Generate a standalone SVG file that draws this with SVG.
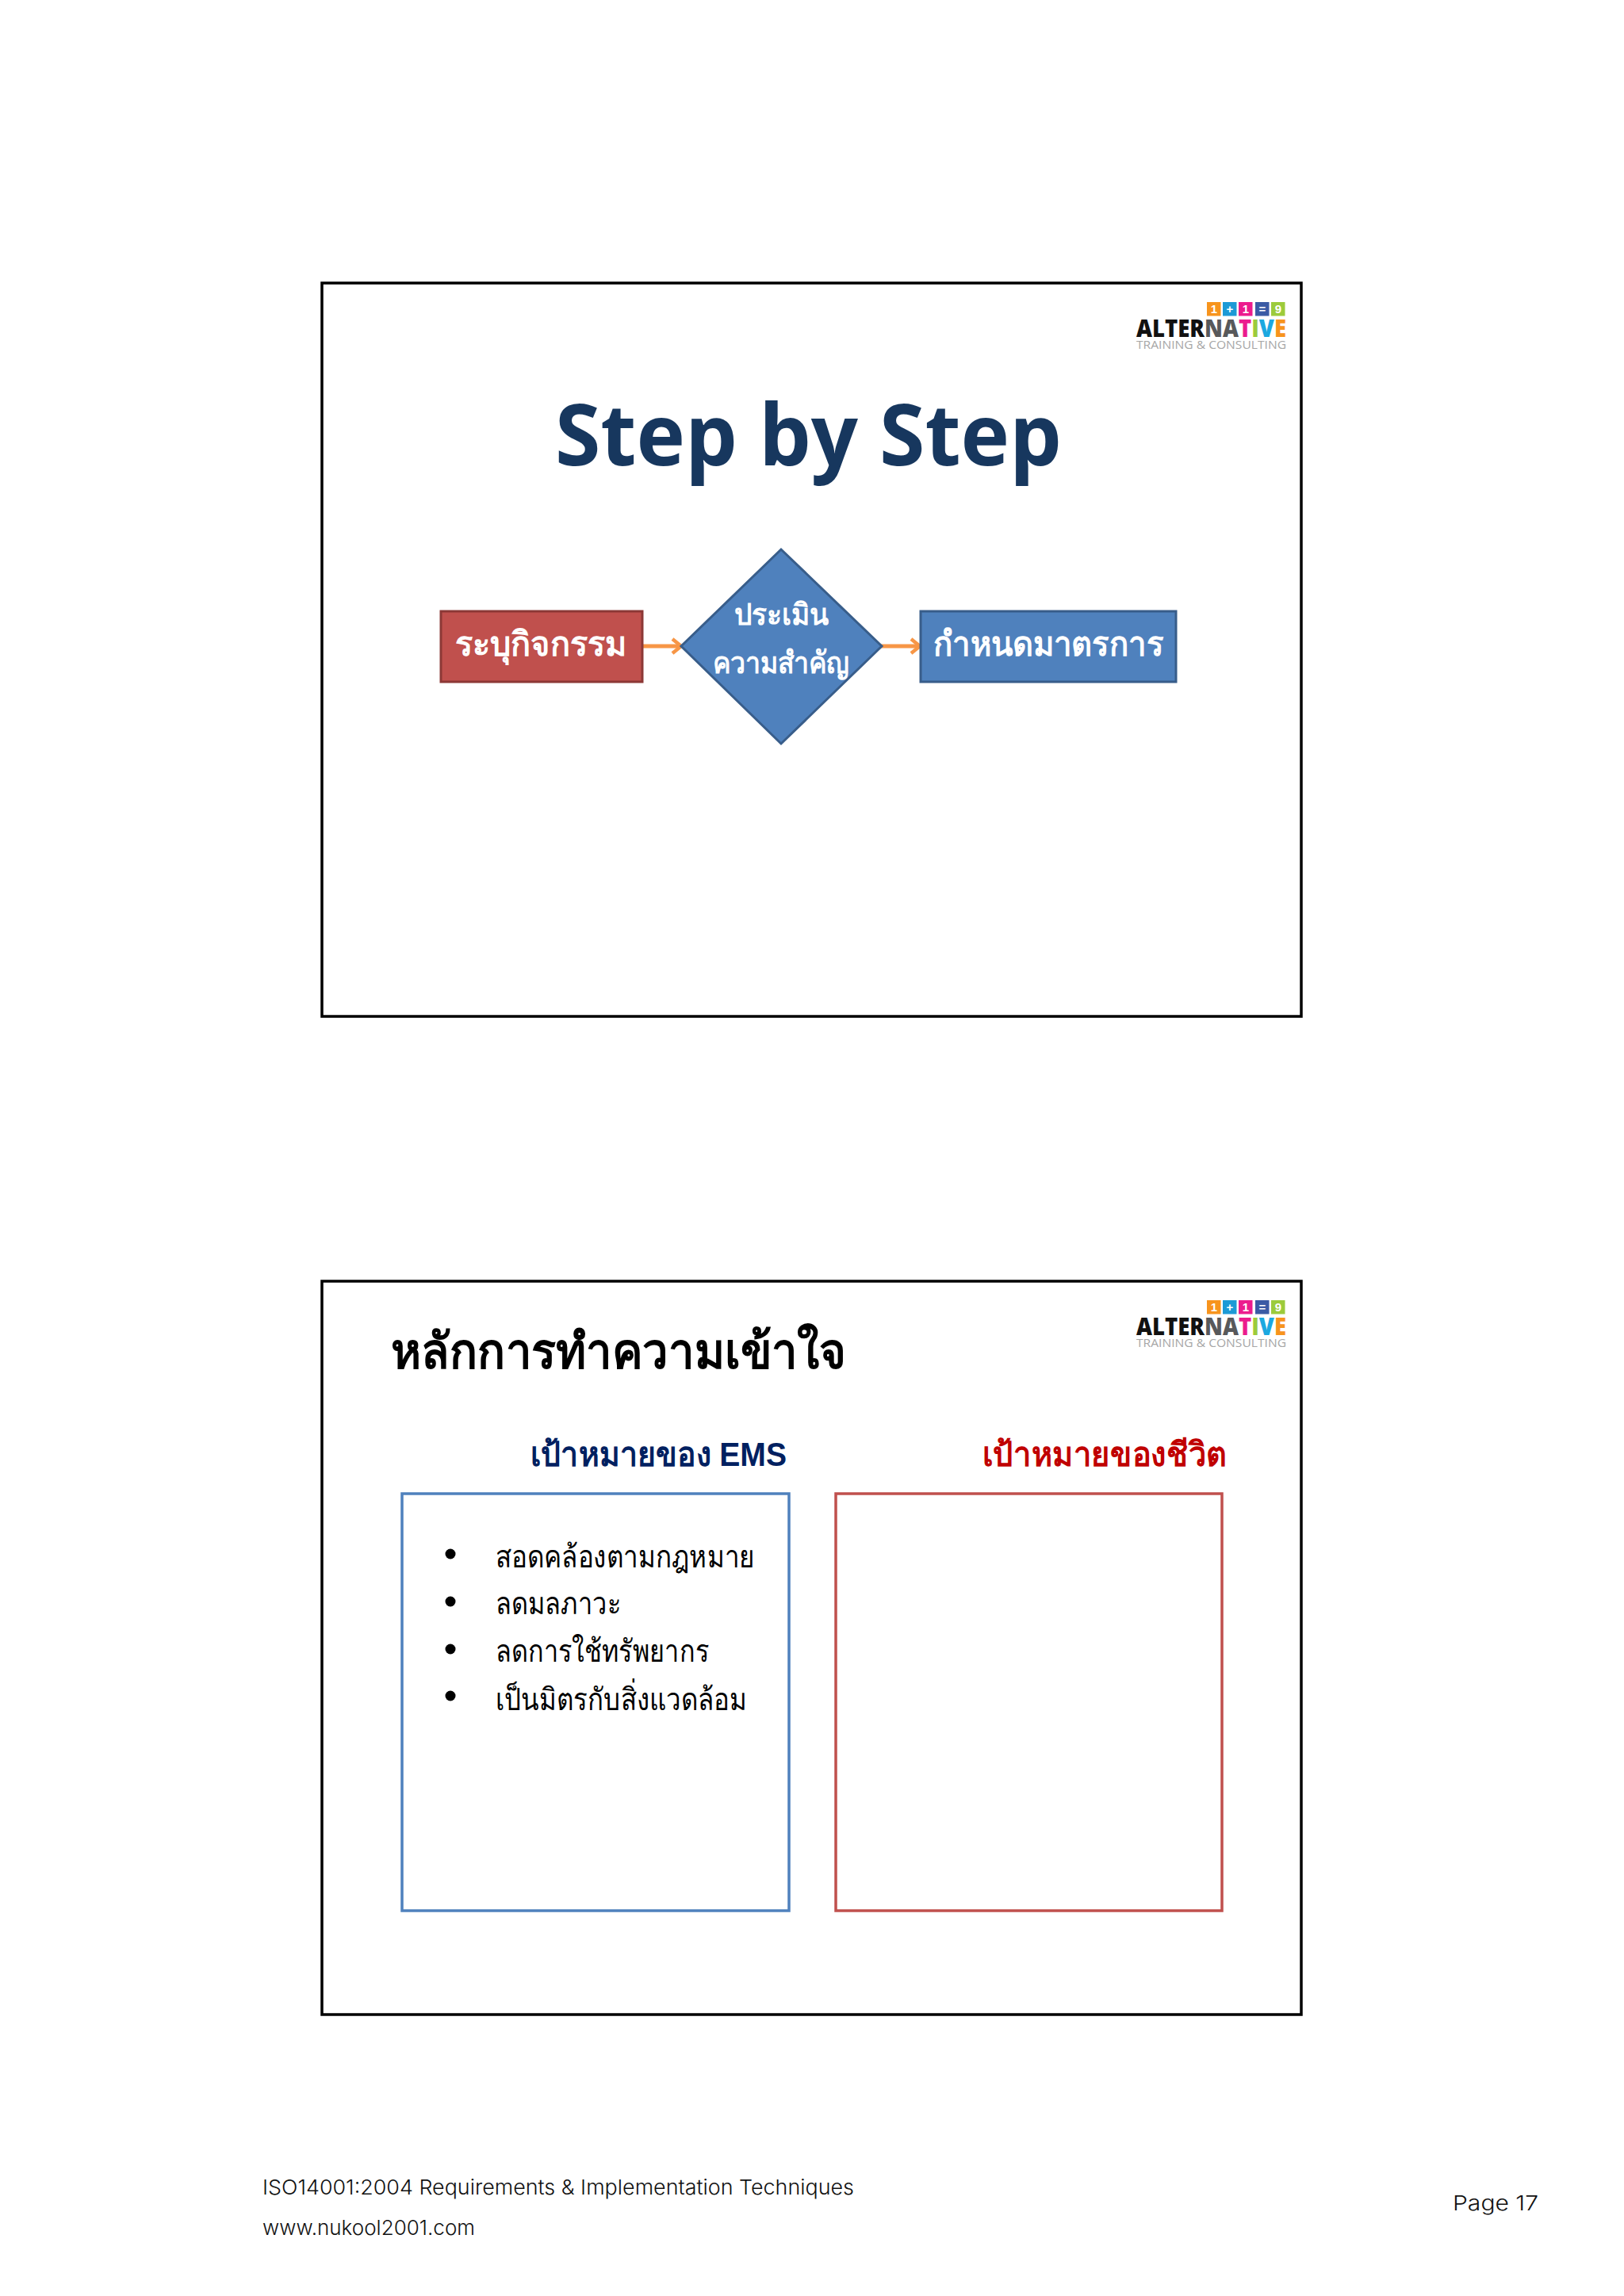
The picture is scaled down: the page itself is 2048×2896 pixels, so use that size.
<svg xmlns="http://www.w3.org/2000/svg" width="2048" height="2896" viewBox="0 0 2048 2896">
<defs>
<marker id="arr" markerUnits="userSpaceOnUse" markerWidth="18" markerHeight="24" refX="15" refY="12" orient="auto"><path d="M4 3 L15 12 L4 21" fill="none" stroke="#f79646" stroke-width="4.500"/></marker>
</defs>
<style>
text{font-family:"Noto Sans","Liberation Sans","DejaVu Sans",sans-serif}
.slide{fill:#fff;stroke:#000;stroke-width:3.500}
.conn{stroke:#f79646;stroke-width:5;fill:none;marker-end:url(#arr)}
.nl{fill:#fff;font-weight:700;font-size:43px}
.sq{font-size:15px;font-weight:700;fill:#fff;text-anchor:middle;font-family:"Liberation Sans",sans-serif}
.lg{font-size:30px;font-weight:800;font-family:"Open Sans","Liberation Sans",sans-serif}
.lt{font-size:15px;fill:#a6a6a6;font-family:"Open Sans","Liberation Sans",sans-serif}
.b{font-size:39px;fill:#000}
.h{font-size:42px;font-weight:700}
.em{font-family:"Liberation Sans",sans-serif}
.f{font-size:26px;fill:#111;font-family:"Inter","Liberation Sans",sans-serif;font-weight:300}
</style>
<rect width="2048" height="2896" fill="#fff"/>
<rect id="slide1" class="slide" x="406" y="357" width="1235" height="925"/>
<rect id="slide2" class="slide" x="406" y="1616" width="1235" height="925"/>
<g id="logo1">
<rect x="1522" y="381" width="17.500" height="17.500" fill="#f7941d"/><rect x="1542" y="381" width="17.500" height="17.500" fill="#1c9ad6"/><rect x="1562" y="381" width="17.500" height="17.500" fill="#ec1c8e"/><rect x="1583" y="381" width="17.500" height="17.500" fill="#3b5ba5"/><rect x="1603" y="381" width="17.500" height="17.500" fill="#9ccb3b"/>
<text class="sq" x="1531" y="395">1</text><text class="sq" x="1551" y="395">+</text><text class="sq" x="1571" y="395">1</text><text class="sq" x="1592" y="395">=</text><text class="sq" x="1612" y="395">9</text>
<text class="lg" x="1433" y="425" textLength="189" lengthAdjust="spacingAndGlyphs"><tspan fill="#111">ALTER</tspan><tspan fill="#58595b">NA</tspan><tspan fill="#ec1c8e">T</tspan><tspan fill="#9ccb3b">I</tspan><tspan fill="#1ca8e0">V</tspan><tspan fill="#f7941d">E</tspan></text>
<text class="lt" x="1433" y="440" textLength="189" lengthAdjust="spacingAndGlyphs">TRAINING &amp; CONSULTING</text>
</g>
<text id="title1" x="700" y="587" textLength="639" lengthAdjust="spacingAndGlyphs" style="font-family:'Open Sans','Liberation Sans',sans-serif;font-weight:700;font-size:108px;fill:#17375e">Step by Step</text>
<g id="connectors">
<line class="conn" x1="810" y1="815" x2="859" y2="815"/>
<line class="conn" x1="1111" y1="815" x2="1160" y2="815"/>
</g>
<g id="node-identify">
<rect x="556" y="771" width="254" height="89" fill="#c0504d" stroke="#8c3836" stroke-width="3"/>
<text class="nl" x="574" y="827" textLength="216" lengthAdjust="spacingAndGlyphs">ระบุกิจกรรม</text>
</g>
<g id="node-assess">
<polygon points="985,693 1112,815 985,938 859,815" fill="#4f81bd" stroke="#385d8a" stroke-width="3"/>
<text class="nl" x="926" y="788" textLength="119" lengthAdjust="spacingAndGlyphs" style="font-size:38px">ประเมิน</text>
<text class="nl" x="899" y="849" textLength="172" lengthAdjust="spacingAndGlyphs" style="font-size:38px">ความสำคัญ</text>
</g>
<g id="node-define">
<rect x="1161" y="771" width="322" height="89" fill="#4f81bd" stroke="#385d8a" stroke-width="3"/>
<text class="nl" x="1177" y="827" textLength="290" lengthAdjust="spacingAndGlyphs">กำหนดมาตรการ</text>
</g>
<g id="logo2">
<rect x="1522" y="1640" width="17.500" height="17.500" fill="#f7941d"/><rect x="1542" y="1640" width="17.500" height="17.500" fill="#1c9ad6"/><rect x="1562" y="1640" width="17.500" height="17.500" fill="#ec1c8e"/><rect x="1583" y="1640" width="17.500" height="17.500" fill="#3b5ba5"/><rect x="1603" y="1640" width="17.500" height="17.500" fill="#9ccb3b"/>
<text class="sq" x="1531" y="1654">1</text><text class="sq" x="1551" y="1654">+</text><text class="sq" x="1571" y="1654">1</text><text class="sq" x="1592" y="1654">=</text><text class="sq" x="1612" y="1654">9</text>
<text class="lg" x="1433" y="1684" textLength="189" lengthAdjust="spacingAndGlyphs"><tspan fill="#111">ALTER</tspan><tspan fill="#58595b">NA</tspan><tspan fill="#ec1c8e">T</tspan><tspan fill="#9ccb3b">I</tspan><tspan fill="#1ca8e0">V</tspan><tspan fill="#f7941d">E</tspan></text>
<text class="lt" x="1433" y="1699" textLength="189" lengthAdjust="spacingAndGlyphs">TRAINING &amp; CONSULTING</text>
</g>
<text id="title2" x="493" y="1726" textLength="574" lengthAdjust="spacingAndGlyphs" style="font-weight:700;font-size:62px;fill:#000">หลักการทำความเข้าใจ</text>
<text class="h" x="669" y="1849" textLength="323" lengthAdjust="spacingAndGlyphs" fill="#002060">เป้าหมายของ <tspan class="em">EMS</tspan></text>
<text class="h" x="1239" y="1849" textLength="308" lengthAdjust="spacingAndGlyphs" fill="#c00000">เป้าหมายของชีวิต</text>
<g id="box-ems">
<rect x="507" y="1884" width="488" height="526" fill="#fff" stroke="#4f81bd" stroke-width="3.500"/>
<circle cx="568" cy="1960" r="6.500"/><circle cx="568" cy="2020" r="6.500"/><circle cx="568" cy="2080" r="6.500"/><circle cx="568" cy="2139" r="6.500"/>
<text class="b" x="625" y="1977" textLength="327" lengthAdjust="spacingAndGlyphs">สอดคล้องตามกฎหมาย</text>
<text class="b" x="625" y="2036" textLength="158" lengthAdjust="spacingAndGlyphs">ลดมลภาวะ</text>
<text class="b" x="625" y="2096" textLength="269" lengthAdjust="spacingAndGlyphs">ลดการใช้ทรัพยากร</text>
<text class="b" x="625" y="2157" textLength="317" lengthAdjust="spacingAndGlyphs">เป็นมิตรกับสิ่งแวดล้อม</text>
</g>
<g id="box-life">
<rect x="1054" y="1884" width="487" height="526" fill="#fff" stroke="#c0504d" stroke-width="3.500"/>
</g>
<text class="f" x="331" y="2768" textLength="746" lengthAdjust="spacingAndGlyphs">ISO14001:2004 Requirements &amp; Implementation Techniques</text>
<text class="f" x="331" y="2819" textLength="268" lengthAdjust="spacingAndGlyphs">www.nukool2001.com</text>
<text class="f" x="1832" y="2788" textLength="108" lengthAdjust="spacingAndGlyphs">Page 17</text>
</svg>
